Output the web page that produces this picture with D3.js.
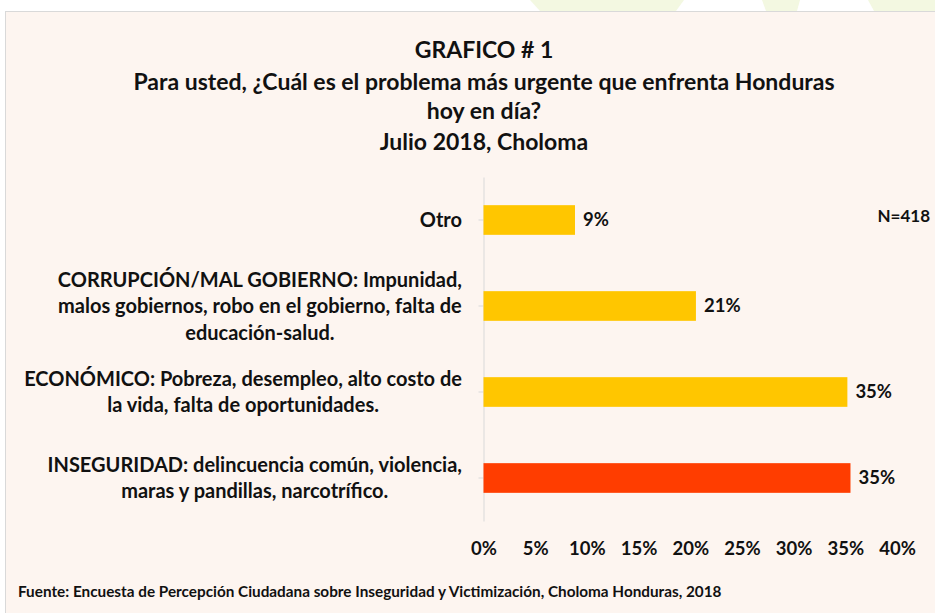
<!DOCTYPE html>
<html>
<head>
  <meta charset="utf-8">
  <script src="https://d3js.org/d3.v7.min.js"></script>
  <style>
    body { margin: 0; background: #ffffff; }
    text { font-family: Lato, "Open Sans", sans-serif; font-weight: bold; fill: #111; }
    .y-axis path, .y-axis line { stroke: #d9d9d9; }
  </style>
</head>
<body>
<script>
  // categories, top to bottom (label lines)
  var categories = ["otro", "corrupcion", "economico", "inseguridad"];
  var categoryLines = [
    ["Otro"],
    ["CORRUPCIÓN/MAL GOBIERNO: Impunidad,", "malos gobiernos, robo en el gobierno, falta de", "educación-salud."],
    ["ECONÓMICO: Pobreza, desempleo, alto costo de", "la vida, falta de oportunidades."],
    ["INSEGURIDAD: delincuencia común, violencia,", "maras y pandillas, narcotrífico."]
  ];
  var values = [8.85, 20.55, 35.2, 35.5];
  var valueLabels = ["9%", "21%", "35%", "35%"];
  var barColors = ["#ffc600", "#ffc600", "#ffc600", "#ff3d00"];
  var tickValues = [0, 5, 10, 15, 20, 25, 30, 35, 40];
  var titleLines = [
    "GRAFICO # 1",
    "Para usted, ¿Cuál es el problema más urgente que enfrenta Honduras",
    "hoy en día?",
    "Julio 2018, Choloma"
  ];
  var sampleNote = "N=418";
  var sourceNote = "Fuente: Encuesta de Percepción Ciudadana sobre Inseguridad y Victimización, Choloma Honduras, 2018";

  var width = 935, height = 613;

  var svg = d3.select("body").append("svg")
      .attr("width", width)
      .attr("height", height);

  // faint green shapes in the top strip
  var shapes = [
    [[530, 0], [684, 0], [676, 11], [540, 11]],
    [[762, 0], [800, 0], [797, 11], [766, 11]],
    [[868, 0], [935, 0], [935, 11], [874, 11]]
  ];
  svg.selectAll("polygon.deco")
      .data(shapes)
      .enter().append("polygon")
      .attr("class", "deco")
      .attr("points", function(d) { return d.join(" "); })
      .attr("fill", "#f3f8e1");

  // chart panel
  svg.append("rect")
      .attr("x", 5.5)
      .attr("y", 11.5)
      .attr("width", width)
      .attr("height", height)
      .attr("fill", "#fdf5f0")
      .attr("stroke", "#d9d9d9");

  // title
  svg.append("g")
      .selectAll("text")
      .data(titleLines)
      .enter().append("text")
      .attr("x", 484)
      .attr("y", function(d, i) { return [58, 90, 119, 150][i]; })
      .attr("text-anchor", "middle")
      .style("font-size", "23px")
      .text(function(d) { return d; });

  var x = d3.scaleLinear()
      .domain([0, 40])
      .range([483.5, 897]);

  var y = d3.scaleBand()
      .domain(categories)
      .range([177, 521])
      .paddingInner(0.655)
      .paddingOuter(0.3275);

  // y axis
  svg.append("g")
      .attr("class", "y-axis")
      .attr("transform", "translate(" + x(0) + ",0)")
      .call(d3.axisLeft(y).tickSize(5).tickSizeOuter(0).tickFormat(""));

  // bars
  svg.selectAll("rect.bar")
      .data(values)
      .enter().append("rect")
      .attr("class", "bar")
      .attr("x", x(0))
      .attr("y", function(d, i) { return y(categories[i]); })
      .attr("width", function(d) { return x(d) - x(0); })
      .attr("height", y.bandwidth())
      .attr("fill", function(d, i) { return barColors[i]; });

  // value labels
  svg.selectAll("text.value")
      .data(values)
      .enter().append("text")
      .attr("class", "value")
      .attr("x", function(d) { return x(d) + 8; })
      .attr("y", function(d, i) { return y(categories[i]) + y.bandwidth() / 2; })
      .attr("dy", "0.35em")
      .style("font-size", "18.5px")
      .text(function(d, i) { return valueLabels[i]; });

  // category labels, centred blocks whose right edge sits left of the axis
  var labelRight = 462;
  categories.forEach(function(c, i) {
    var lines = categoryLines[i];
    var g = svg.append("g");
    var cy = y(c) + y.bandwidth() / 2;
    var lh = 26.5;
    var texts = g.selectAll("text")
        .data(lines)
        .enter().append("text")
        .attr("y", function(d, j) { return cy + (j - (lines.length - 1) / 2) * lh; })
        .attr("dy", "0.35em")
        .attr("text-anchor", "middle")
        .style("font-size", "20px")
        .text(function(d) { return d; });
    var maxW = 0;
    texts.each(function() { maxW = Math.max(maxW, this.getComputedTextLength()); });
    texts.attr("x", labelRight - maxW / 2);
  });

  // x axis labels
  var xAxis = svg.append("g")
      .attr("transform", "translate(0,540)")
      .call(d3.axisBottom(x).tickValues(tickValues).tickSize(0).tickPadding(0)
        .tickFormat(function(d) { return d + "%"; }));
  xAxis.select(".domain").remove();
  xAxis.selectAll("text")
      .attr("dy", "0.35em")
      .attr("y", 9)
      .style("font-size", "18.5px")
      .style("font-family", "Lato, sans-serif")
      .attr("fill", "#111");

  svg.append("text")
      .attr("x", 930)
      .attr("y", 216)
      .attr("dy", "0.35em")
      .attr("text-anchor", "end")
      .style("font-size", "17px")
      .text(sampleNote);

  svg.append("text")
      .attr("x", 18)
      .attr("y", 592)
      .attr("dy", "0.35em")
      .style("font-size", "15.3px")
      .text(sourceNote);
</script>
</body>
</html>
